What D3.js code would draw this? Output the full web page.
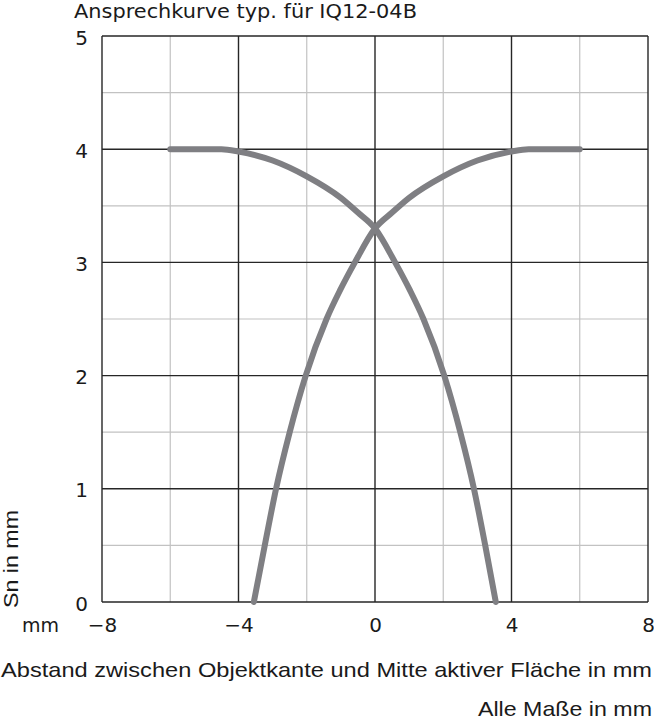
<!DOCTYPE html>
<html>
<head>
<meta charset="utf-8">
<script src="https://cdn.jsdelivr.net/npm/d3@7"></script>
<style>
  body { margin: 0; background: #fff; }
  text { fill: #1a1a1a; }
</style>
</head>
<body>
<div id="chart"></div>
<script>
// curve data (x = offset in mm, y = Sn in mm)
var leftCurveX  = [-6, -4.5, -4, -3, -2, -1, -0.5, 0, 0.59, 1.03, 1.42, 2.03, 2.5, 2.9, 3.23, 3.54];
var leftCurveY  = [4, 4, 3.98, 3.9, 3.76, 3.57, 3.44, 3.3, 3, 2.75, 2.5, 2, 1.5, 1, 0.5, 0];
var rightCurveX = [-3.55, -3.23, -2.9, -2.5, -2.03, -1.42, -1.03, -0.59, 0, 0.5, 1, 2, 3, 4, 4.5, 6];
var rightCurveY = [0, 0.5, 1, 1.5, 2, 2.5, 2.75, 3, 3.3, 3.44, 3.57, 3.76, 3.9, 3.98, 4, 4];

var xTicks = [-8, -4, 0, 4, 8];
var xMinor = [-6, -2, 2, 6];
var yTicks = [0, 1, 2, 3, 4, 5];
var yMinor = [0.5, 1.5, 2.5, 3.5, 4.5];

var title = "Ansprechkurve typ. für IQ12-04B";
var xLabel = "Abstand zwischen Objektkante und Mitte aktiver Fläche in mm";
var yLabel = "Sn in mm";
var unitNote = "Alle Maße in mm";

// set the dimensions and margins of the graph
var margin = {top: 36, right: 6, bottom: 118, left: 102},
    width = 654 - margin.left - margin.right,
    height = 720 - margin.top - margin.bottom;

var svgRoot = d3.select("#chart")
  .append("svg")
    .attr("width", 654)
    .attr("height", 720);

var svg = svgRoot.append("g")
    .attr("transform", "translate(" + margin.left + "," + margin.top + ")");

var x = d3.scaleLinear().domain([-8, 8]).range([0, width]);
var y = d3.scaleLinear().domain([0, 5]).range([height, 0]);

// minor grid (light gray)
svg.append("g").selectAll("line").data(xMinor).enter().append("line")
    .attr("x1", function(d) { return x(d); }).attr("x2", function(d) { return x(d); })
    .attr("y1", 0).attr("y2", height)
    .attr("stroke", "#c2c2c2").attr("stroke-width", 1.2);
svg.append("g").selectAll("line").data(yMinor).enter().append("line")
    .attr("y1", function(d) { return y(d); }).attr("y2", function(d) { return y(d); })
    .attr("x1", 0).attr("x2", width)
    .attr("stroke", "#c2c2c2").attr("stroke-width", 1.2);

// major grid (black)
svg.append("g").selectAll("line").data(xTicks).enter().append("line")
    .attr("x1", function(d) { return x(d); }).attr("x2", function(d) { return x(d); })
    .attr("y1", 0).attr("y2", height)
    .attr("stroke", "#262626").attr("stroke-width", 1.4);
svg.append("g").selectAll("line").data(yTicks).enter().append("line")
    .attr("y1", function(d) { return y(d); }).attr("y2", function(d) { return y(d); })
    .attr("x1", 0).attr("x2", width)
    .attr("stroke", "#262626").attr("stroke-width", 1.4);

// axes, tick labels only
var xAxis = svg.append("g")
    .attr("transform", "translate(0," + height + ")")
    .call(d3.axisBottom(x).tickValues(xTicks).tickSize(0)
      .tickFormat(function(d) { return d < 0 ? "\u2212" + Math.abs(d) : d; }));
xAxis.select(".domain").remove();
xAxis.selectAll("text")
    .attr("y", 30).attr("dy", null)
    .style("font-family", "'DejaVu Sans', sans-serif")
    .style("font-size", "20px");

var yAxis = svg.append("g")
    .call(d3.axisLeft(y).tickValues(yTicks).tickSize(0).tickPadding(14)
      .tickFormat(d3.format("d")));
yAxis.select(".domain").remove();
yAxis.selectAll("text")
    .attr("dy", "0.4em")
    .style("font-family", "'DejaVu Sans', sans-serif")
    .style("font-size", "20px");

// curves
var line = d3.line()
    .x(function(d) { return x(d[0]); })
    .y(function(d) { return y(d[1]); })
    .curve(d3.curveMonotoneX);

[[leftCurveX, leftCurveY], [rightCurveX, rightCurveY]].forEach(function(c) {
  var pts = c[0].map(function(v, i) { return [v, c[1][i]]; });
  svg.append("path")
      .datum(pts)
      .attr("d", line)
      .attr("fill", "none")
      .attr("stroke", "#7f7f83")
      .attr("stroke-width", 6)
      .attr("stroke-linecap", "round")
      .attr("stroke-linejoin", "round");
});

// texts
svgRoot.append("text")
    .attr("x", 74).attr("y", 17.5)
    .attr("textLength", 343).attr("lengthAdjust", "spacingAndGlyphs")
    .style("font-family", "'DejaVu Sans', sans-serif")
    .style("font-size", "19px")
    .text(title);

svgRoot.append("text")
    .attr("x", 59).attr("y", 632)
    .attr("text-anchor", "end")
    .style("font-family", "'DejaVu Sans', sans-serif")
    .style("font-size", "19px")
    .text("mm");

svgRoot.append("text")
    .attr("transform", "translate(18,608) rotate(-90)")
    .attr("textLength", 98).attr("lengthAdjust", "spacingAndGlyphs")
    .style("font-family", "'Liberation Sans', Arial, sans-serif")
    .style("font-size", "21px")
    .text(yLabel);

svgRoot.append("text")
    .attr("x", 1).attr("y", 677)
    .attr("textLength", 651).attr("lengthAdjust", "spacingAndGlyphs")
    .style("font-family", "'Liberation Sans', Arial, sans-serif")
    .style("font-size", "21px")
    .text(xLabel);

svgRoot.append("text")
    .attr("x", 478).attr("y", 716)
    .attr("textLength", 174).attr("lengthAdjust", "spacingAndGlyphs")
    .style("font-family", "'Liberation Sans', Arial, sans-serif")
    .style("font-size", "21px")
    .text(unitNote);
</script>
</body>
</html>
